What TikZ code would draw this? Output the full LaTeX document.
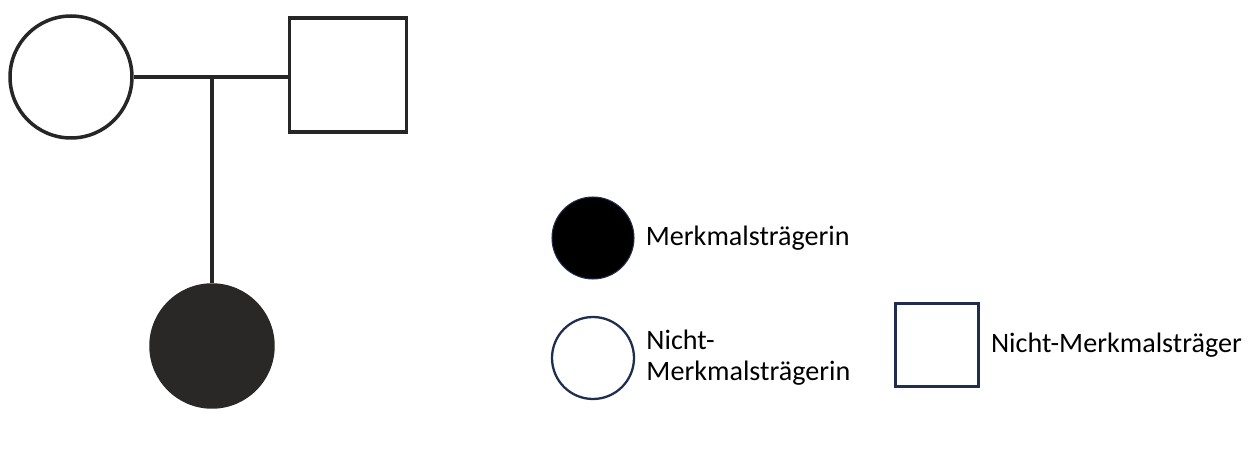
\documentclass[tikz,border=0pt]{standalone}
\usepackage{fontspec}
\setmainfont{Carlito}
\usetikzlibrary{positioning}
\definecolor{navy}{HTML}{1F2D4E}
\definecolor{darkfill}{HTML}{2A2827}
\tikzset{
x=0.02cm, y=-0.02cm, % one unit is one pixel of the reference
female/.style={circle, draw=black!85, line width=2pt, inner sep=0pt, minimum size=2.44cm},
male/.style={rectangle, draw=black!85, line width=2pt, inner sep=0pt, minimum width=2.34cm, minimum height=2.28cm},
legfemale/.style={circle, draw=navy, line width=1.3pt, inner sep=0pt, minimum size=1.64cm},
legmale/.style={rectangle, draw=navy, line width=1.4pt, inner sep=0pt, minimum size=1.66cm},
legtext/.style={inner sep=0pt, align=left, font=\fontsize{16}{17.6}\selectfont},
}

\begin{document}
\begin{tikzpicture}
    \useasboundingbox (0,0) rectangle (1258,452);
    % pedigree
    \node[female] (mother) at (71,77) {};
    \node[male] (father) at (348,75) {};
    \node[female, fill=darkfill, draw=darkfill] (daughter) at (212,346) {};
    \coordinate (union) at (212,77);
    \draw[line width=2pt, black!85] (mother.east) -- (father.west |- mother.east);
    \draw[line width=2pt, black!85] (union) -- (daughter);
    % legend
    \node[legfemale, fill=black, line width=0.6pt] (leg_carrier) at (593,238) {};
    \node[legfemale] (leg_female) at (593,358) {};
    \node[legmale] (leg_male) at (937,345) {};
    \node[legtext, right=0.22cm of leg_carrier] (txt_carrier) {Merkmalsträgerin};
    \node[legtext, right=0.22cm of leg_female] (txt_female) {Nicht-\\Merkmalsträgerin};
    \node[legtext, right=0.22cm of leg_male] (txt_male) {Nicht-Merkmalsträger};
\end{tikzpicture}
\end{document}
